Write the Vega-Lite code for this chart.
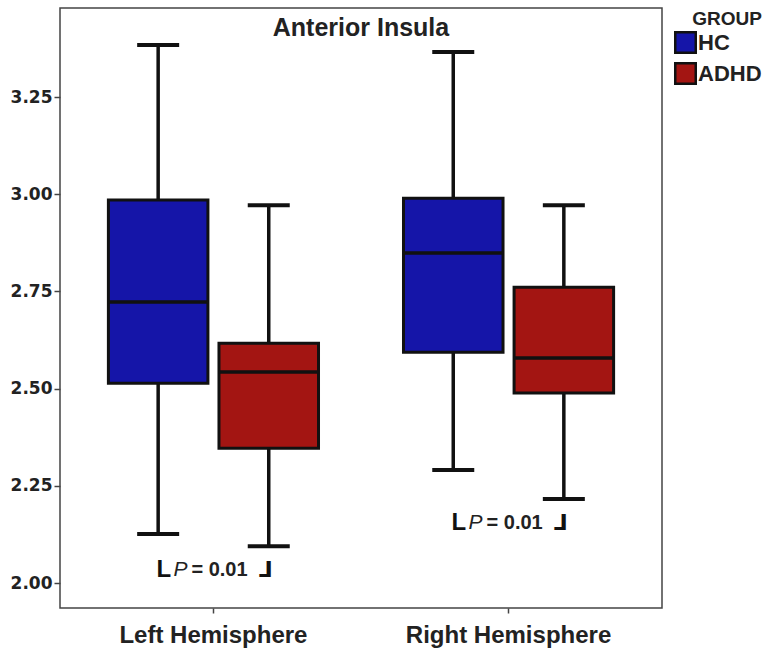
{
  "$schema": "https://vega.github.io/schema/vega-lite/v6.json",
  "autosize": "none",
  "width": 602,
  "height": 600,
  "padding": {"left": 60, "top": 8, "right": 107, "bottom": 52},
  "background": "white",
  "config": {
    "view": {"stroke": "#444", "strokeWidth": 1.5},
    "axis": {"grid": false, "domain": false, "tickColor": "#444", "labelColor": "#222", "labelFontWeight": "bold"}
  },
  "title": {"text": "Anterior Insula", "offset": -33, "anchor": "middle", "font": "Liberation Sans", "fontSize": 25, "fontWeight": "bold", "color": "#222"},
  "datasets": {
    "boxes": [
      {"hemi": "Left Hemisphere", "group": "HC", "lo": 2.126, "q1": 2.514, "med": 2.723, "q3": 2.985, "hi": 3.384},
      {"hemi": "Left Hemisphere", "group": "ADHD", "lo": 2.095, "q1": 2.347, "med": 2.543, "q3": 2.617, "hi": 2.972},
      {"hemi": "Right Hemisphere", "group": "HC", "lo": 2.291, "q1": 2.594, "med": 2.849, "q3": 2.990, "hi": 3.366},
      {"hemi": "Right Hemisphere", "group": "ADHD", "lo": 2.216, "q1": 2.489, "med": 2.579, "q3": 2.761, "hi": 2.972}
    ],
    "notes": [
      {"hemi": "Left Hemisphere", "yv": 2.033, "label": "= 0.01", "p": "P", "l": "L", "r": "⅃"},
      {"hemi": "Right Hemisphere", "yv": 2.154, "label": "= 0.01", "p": "P", "l": "L", "r": "⅃"}
    ]
  },
  "encoding": {
    "x": {"field": "hemi", "type": "nominal", "sort": ["Left Hemisphere", "Right Hemisphere"],
      "scale": {"paddingInner": 0.288, "paddingOuter": 0.164},
      "axis": {"title": null, "labelAngle": 0, "labelFont": "Liberation Sans", "labelFontSize": 24, "labelPadding": 10, "labelLimit": 0, "tickSize": 5, "tickWidth": 1.5}}
  },
  "layer": [
    {
      "data": {"name": "boxes"},
      "mark": {"type": "rule", "color": "#111", "strokeWidth": 3.5},
      "encoding": {
        "xOffset": {"field": "group", "type": "nominal", "sort": ["HC", "ADHD"], "scale": {"paddingInner": 0.1, "paddingOuter": 0}},
        "y": {"field": "lo", "type": "quantitative", "scale": {"domain": [1.936, 3.479], "nice": false, "zero": false},
          "axis": {"title": null, "values": [2.0, 2.25, 2.5, 2.75, 3.0, 3.25], "format": ".2f", "labelFont": "DejaVu Sans", "labelFontSize": 17, "tickSize": 6, "tickWidth": 1.5, "labelPadding": 2}},
        "y2": {"field": "hi"}
      }
    },
    {
      "data": {"name": "boxes"},
      "mark": {"type": "tick", "color": "#111", "size": 42, "thickness": 4, "orient": "horizontal", "opacity": 1},
      "encoding": {
        "xOffset": {"field": "group", "type": "nominal", "sort": ["HC", "ADHD"]},
        "y": {"field": "lo", "type": "quantitative"}
      }
    },
    {
      "data": {"name": "boxes"},
      "mark": {"type": "tick", "color": "#111", "size": 42, "thickness": 4, "orient": "horizontal", "opacity": 1},
      "encoding": {
        "xOffset": {"field": "group", "type": "nominal", "sort": ["HC", "ADHD"]},
        "y": {"field": "hi", "type": "quantitative"}
      }
    },
    {
      "data": {"name": "boxes"},
      "mark": {"type": "bar", "stroke": "#111", "strokeWidth": 3, "opacity": 1},
      "encoding": {
        "xOffset": {"field": "group", "type": "nominal", "sort": ["HC", "ADHD"]},
        "y": {"field": "q1", "type": "quantitative"},
        "y2": {"field": "q3"},
        "color": {"field": "group", "type": "nominal", "sort": ["HC", "ADHD"],
          "scale": {"domain": ["HC", "ADHD"], "range": ["#1515a8", "#a31512"]},
          "legend": {"title": "GROUP", "orient": "none", "legendX": 614, "legendY": 2,
            "titleFont": "Liberation Sans", "titleFontSize": 19, "titleFontWeight": "bold", "titleColor": "#222", "titleAnchor": "end", "titlePadding": 2,
            "labelFont": "Liberation Sans", "labelFontSize": 22, "labelFontWeight": "bold", "labelColor": "#222", "labelOffset": 1,
            "symbolType": "square", "symbolSize": 420, "symbolStrokeColor": "#111", "symbolStrokeWidth": 2.5, "symbolOpacity": 1, "rowPadding": 0}}
      }
    },
    {
      "data": {"name": "boxes"},
      "mark": {"type": "tick", "color": "#111", "size": 100, "thickness": 3.5, "orient": "horizontal", "opacity": 1},
      "encoding": {
        "xOffset": {"field": "group", "type": "nominal", "sort": ["HC", "ADHD"]},
        "y": {"field": "med", "type": "quantitative"}
      }
    },
    {
      "data": {"name": "notes"},
      "mark": {"type": "text", "font": "Liberation Sans", "fontSize": 20, "fontWeight": "bold", "color": "#222", "align": "left", "baseline": "middle", "dx": -22},
      "encoding": {"y": {"field": "yv", "type": "quantitative"}, "text": {"field": "label"}}
    },
    {
      "data": {"name": "notes"},
      "mark": {"type": "text", "font": "Liberation Sans", "fontSize": 21, "fontStyle": "italic", "color": "#222", "align": "right", "baseline": "middle", "dx": -26},
      "encoding": {"y": {"field": "yv", "type": "quantitative"}, "text": {"field": "p"}}
    },
    {
      "data": {"name": "notes"},
      "mark": {"type": "text", "font": "Liberation Sans", "fontSize": 24, "fontWeight": "bold", "color": "#111", "align": "left", "baseline": "middle", "dx": -57, "dy": 0},
      "encoding": {"y": {"field": "yv", "type": "quantitative"}, "text": {"field": "l"}}
    },
    {
      "data": {"name": "notes"},
      "mark": {"type": "text", "font": "DejaVu Sans", "fontSize": 22, "fontWeight": "bold", "color": "#111", "align": "right", "baseline": "middle", "dx": 59, "dy": 0},
      "encoding": {"y": {"field": "yv", "type": "quantitative"}, "text": {"field": "r"}}
    }
  ]
}
